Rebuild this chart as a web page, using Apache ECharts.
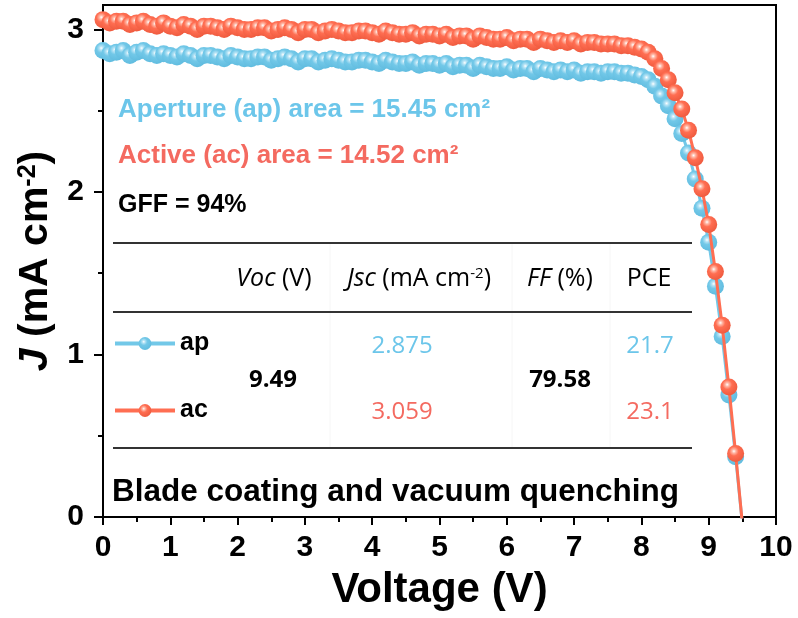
<!DOCTYPE html>
<html>
<head>
<meta charset="utf-8">
<script src="https://cdn.jsdelivr.net/npm/echarts@6/dist/echarts.min.js"></script>
<style>html,body{margin:0;padding:0;background:#fff;}#c{width:798px;height:618px;}</style>
</head>
<body>
<div id="c"></div>
<script>
// Voltage (V)
var voltage = [0.0,0.1,0.2,0.3,0.4,0.5,0.6,0.7,0.8,0.9,
  1.0,1.1,1.2,1.3,1.4,1.5,1.6,1.7,1.8,1.9,
  2.0,2.1,2.2,2.3,2.4,2.5,2.6,2.7,2.8,2.9,
  3.0,3.1,3.2,3.3,3.4,3.5,3.6,3.7,3.8,3.9,
  4.0,4.1,4.2,4.3,4.4,4.5,4.6,4.7,4.8,4.9,
  5.0,5.1,5.2,5.3,5.4,5.5,5.6,5.7,5.8,5.9,
  6.0,6.1,6.2,6.3,6.4,6.5,6.6,6.7,6.8,6.9,
  7.0,7.1,7.2,7.3,7.4,7.5,7.6,7.7,7.8,7.9,
  8.0,8.1,8.2,8.3,8.4,8.5,8.6,8.7,8.8,8.9,
  9.0,9.1,9.2,9.3,9.4,9.5];
// J (mA cm-2), aperture area
var jAp = [2.87,2.85,2.86,2.87,2.84,2.86,2.87,2.85,2.84,2.85,
  2.84,2.83,2.85,2.84,2.82,2.84,2.84,2.83,2.82,2.84,
  2.83,2.82,2.82,2.83,2.83,2.81,2.82,2.83,2.82,2.80,
  2.82,2.82,2.80,2.81,2.82,2.81,2.80,2.80,2.81,2.81,
  2.80,2.79,2.81,2.80,2.79,2.79,2.80,2.78,2.79,2.79,
  2.78,2.79,2.77,2.78,2.78,2.76,2.78,2.77,2.76,2.76,
  2.77,2.75,2.76,2.76,2.74,2.76,2.75,2.74,2.75,2.74,
  2.75,2.73,2.74,2.74,2.73,2.74,2.74,2.73,2.73,2.72,
  2.71,2.69,2.65,2.59,2.53,2.45,2.36,2.24,2.08,1.90,
  1.69,1.42,1.11,0.75,0.37,-0.04];
// J (mA cm-2), active area
var jAc = [3.06,3.04,3.05,3.05,3.03,3.04,3.05,3.03,3.02,3.04,
  3.02,3.01,3.03,3.02,3.00,3.02,3.02,3.01,3.00,3.02,
  3.01,3.00,3.00,3.01,3.01,2.99,3.00,3.01,3.00,2.98,
  3.00,3.00,2.98,2.99,3.00,2.99,2.98,2.98,2.99,2.99,
  2.98,2.97,2.99,2.98,2.97,2.97,2.98,2.96,2.97,2.97,
  2.96,2.97,2.95,2.96,2.96,2.94,2.96,2.95,2.94,2.94,
  2.95,2.93,2.94,2.94,2.92,2.94,2.93,2.92,2.93,2.92,
  2.93,2.91,2.92,2.92,2.91,2.91,2.91,2.90,2.90,2.89,
  2.88,2.86,2.82,2.76,2.69,2.61,2.51,2.38,2.21,2.02,
  1.80,1.51,1.18,0.80,0.39,-0.04];

var xTicks = [0,1,2,3,4,5,6,7,8,9,10];
var yTicks = [0,1,2,3];
var yMinorTicks = [0.5,1.5,2.5];

var tableHeaders = ['{i|Voc} (V)', '{i|Jsc} (mA cm{s|-2})', '{i|FF} (%)', 'PCE'];
var apRow = ['2.875', '21.7'];
var acRow = ['3.059', '23.1'];
var shared = ['9.49', '79.58'];

var BLUE = '#72C8E8', RED = '#FF6E52';
var BLUE_T = '#6CC6EA', RED_T = '#F46A60';
var ARIAL = '"Liberation Sans", Arial, sans-serif';
var TBL = '"Open Sans", sans-serif';

function sphere(base, dark, light) {
  return {type:'radial', x:0.4, y:0.36, r:0.62, colorStops:[
    {offset:0, color:'#ffffff'},
    {offset:0.18, color:light},
    {offset:0.45, color:base},
    {offset:1, color:dark}]};
}
function pairs(ys){ return voltage.map(function(v,i){ return [v, ys[i]]; }); }

var chart = echarts.init(document.getElementById('c'), null, {renderer:'canvas'});

var graphics = [];
function line(x1,y1,x2,y2,color,w){ graphics.push({type:'line', silent:true, shape:{x1:x1,y1:y1,x2:x2,y2:y2}, style:{stroke:color, lineWidth:w}}); }
function text(x,y,str,opt){
  opt = opt || {};
  graphics.push({type:'text', x:x, y:y, silent:true, style:{
    text:str, fill:opt.fill||'#000', fontSize:opt.size||24, fontFamily:opt.family||TBL,
    fontWeight:opt.weight||'normal', align:opt.align||'center', verticalAlign:'middle',
    rich: opt.rich}});
}
// faint table grid
[330,512,610].forEach(function(x){ line(x,243,x,448,'#f6f6f6',1); });
// table rules
line(113,243,692,243,'#333',2);
line(113,312,692,312,'#333',2);
line(113,448,692,448,'#333',2);
var hRich = {
  i:{fontStyle:'italic', fontSize:25, fontFamily:TBL, fill:'#000'},
  s:{fontSize:15, fontFamily:TBL, fill:'#000', verticalAlign:'top'}
};
var hx = [274,419,560,649];
tableHeaders.forEach(function(h,k){ text(hx[k],279,h,{rich:hRich, size:25}); });
text(402,346,apRow[0],{fill:BLUE_T});
text(650,346,apRow[1],{fill:BLUE_T});
text(402,412,acRow[0],{fill:RED_T});
text(650,412,acRow[1],{fill:RED_T});
text(273,380,shared[0],{weight:'bold'});
text(560,380,shared[1],{weight:'bold'});
// annotations
text(118,110,'Aperture (ap) area = 15.45 cm²',{fill:BLUE_T, size:26, family:ARIAL, weight:'bold', align:'left'});
text(118,156,'Active (ac) area = 14.52 cm²',{fill:RED_T, size:26, family:ARIAL, weight:'bold', align:'left'});
text(118,205,'GFF = 94%',{size:25, family:ARIAL, weight:'bold', align:'left'});
text(112,492,'Blade coating and vacuum quenching',{size:31.5, family:ARIAL, weight:'bold', align:'left'});

var legendBase = {
  orient:'horizontal', left:113, padding:0, itemWidth:60, itemHeight:16, selectedMode:false,
  lineStyle:{width:4},
  textStyle:{fontSize:25, fontWeight:'bold', color:'#000', fontFamily:ARIAL}
};

var option = {
  animation:false,
  backgroundColor:'#fff',
  grid:{left:103, right:22, top:5, bottom:101, show:true, borderColor:'#000', borderWidth:2, backgroundColor:'transparent'},
  legend:[
    Object.assign({}, legendBase, {data:['ap'], top:331}),
    Object.assign({}, legendBase, {data:['ac'], top:398})
  ],
  xAxis:{
    type:'value', min:xTicks[0], max:xTicks[xTicks.length-1], interval:1,
    name:'Voltage (V)', nameLocation:'middle', nameGap:52,
    nameTextStyle:{fontSize:42, fontWeight:'bold', color:'#000', fontFamily:ARIAL},
    axisLine:{show:true, onZero:false, lineStyle:{color:'#000', width:2}},
    axisTick:{show:true, inside:false, length:8, lineStyle:{color:'#000', width:2}},
    minorTick:{show:true, splitNumber:2, length:5, lineStyle:{color:'#000', width:2}},
    axisLabel:{fontSize:30, fontWeight:'bold', color:'#000', fontFamily:ARIAL, margin:16},
    splitLine:{show:false}, minorSplitLine:{show:false}
  },
  yAxis:[{
    type:'value', min:0, max:3.15,
    name:'{i|J} (mA cm{s|-2})', nameLocation:'middle', nameGap:45, nameRotate:90,
    nameTextStyle:{fontSize:41, fontWeight:'bold', color:'#000', fontFamily:ARIAL,
      rich:{i:{fontSize:41, fontWeight:'bold', fontStyle:'italic', fontFamily:ARIAL, color:'#000'},
            s:{fontSize:25, fontWeight:'bold', fontFamily:ARIAL, color:'#000', verticalAlign:'top'}}},
    axisLine:{show:true, onZero:false, lineStyle:{color:'#000', width:2}},
    axisTick:{show:true, inside:false, length:9, customValues:yTicks, lineStyle:{color:'#000', width:2}},
    axisLabel:{fontSize:30, fontWeight:'bold', color:'#000', fontFamily:ARIAL, margin:19, customValues:yTicks},
    splitLine:{show:false}
  },{
    type:'value', min:0, max:3.15, position:'left',
    axisLine:{show:false},
    axisTick:{show:true, inside:false, length:5, customValues:yMinorTicks, lineStyle:{color:'#000', width:2}},
    axisLabel:{show:false},
    splitLine:{show:false}
  }],
  series:[{
    name:'ap', type:'line', data:pairs(jAp), clip:true,
    symbol:'circle', symbolSize:17, showSymbol:true,
    lineStyle:{color:BLUE, width:3},
    itemStyle:{color:sphere(BLUE,'#62bde0','#b5e3f5')},
    z:2
  },{
    name:'ac', type:'line', data:pairs(jAc), clip:true,
    symbol:'circle', symbolSize:17, showSymbol:true,
    lineStyle:{color:RED, width:3},
    itemStyle:{color:sphere(RED,'#f05c40','#ffb8a6')},
    z:3
  }],
  graphic:graphics
};
chart.setOption(option);
</script>
</body>
</html>
